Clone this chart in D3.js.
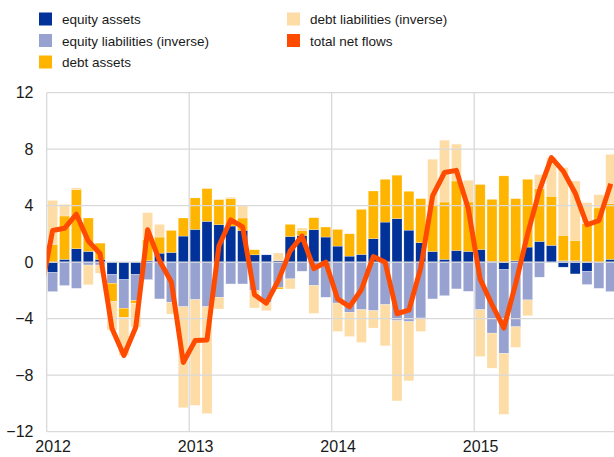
<!DOCTYPE html>
<html>
<head>
<meta charset="utf-8">
<script src="https://cdn.jsdelivr.net/npm/d3@7"></script>
<style>
  html, body { margin: 0; padding: 0; background: #fff; }
  svg { display: block; font-family: "Liberation Sans", Arial, sans-serif; }
</style>
</head>
<body>
<svg id="chart" width="614" height="457"></svg>
<script>
// ---- data (monthly, Jan 2012 - Dec 2015) ----
const years = ["2012", "2013", "2014", "2015"];
const yTicks = [12, 8, 4, 0, -4, -8, -12];
const seriesNames = ["equity assets", "equity liabilities (inverse)", "debt assets", "debt liabilities (inverse)", "total net flows"];

const equityAssets = [
  -0.71, 0.20, 0.95, 0.76, 0.20, -0.87, -1.23, -0.87, 0.10, 0.64, 0.69, 1.85,
  2.32, 2.89, 2.65, 2.56, 2.25, 0.52, 0.52, 0.10, 1.82, 1.89, 2.30, 1.78,
  1.14, 0.43, 0.55, 1.66, 2.84, 3.08, 2.27, 1.38, 0.76, 0.20, 0.83, 0.76,
  0.90, 0.05, -0.52, 0.10, 1.07, 1.47, 1.19, -0.35, -0.83, -0.64, 0.00, 0.20
];
const equityLiabilities = [
  -1.37, -1.65, -1.85, -0.20, -0.20, -0.62, -2.03, -1.85, -1.23, -2.60, -2.84, -3.15,
  -2.65, -3.15, -2.48, -1.54, -1.54, -2.01, -2.84, -1.77, -1.18, -0.64, -1.65, -2.48,
  -2.89, -3.55, -3.36, -3.43, -3.00, -4.14, -4.21, -3.95, -2.60, -2.37, -1.89, -2.06,
  -3.36, -5.02, -5.94, -4.57, -2.67, -1.06, 0.00, 0.10, 0.10, -0.94, -1.85, -2.08
];
const debtAssets = [
  1.26, 3.07, 4.19, 2.37, 1.15, -1.28, -0.64, -0.19, 1.50, 1.14, 1.56, 1.28,
  2.23, 2.32, 1.78, 1.94, 0.88, 0.36, 0.00, -0.13, 0.86, 0.36, 0.85, 0.71,
  1.18, 1.58, 3.19, 3.38, 3.03, 3.08, 2.75, 3.12, 3.27, 4.06, 4.92, 3.50,
  4.60, 4.40, 6.11, 4.40, 4.80, 3.74, 3.48, 1.80, 1.44, 2.72, 3.84, 3.94
];
const debtLiabilities = [
  3.12, 0.83, 0.12, -1.40, -0.58, -2.03, -2.70, -1.69, 1.91, 0.90, -0.83, -7.15,
  -7.48, -7.57, -0.83, 0.10, 0.85, -1.23, -0.59, 0.55, -0.71, 0.17, -1.97, 0.00,
  -2.01, -1.71, -2.32, -1.23, -2.92, -5.68, -4.19, -0.95, 3.26, 4.38, 2.61, 1.54,
  -3.32, -2.48, -4.31, -1.46, -1.12, 0.99, 2.74, 4.80, 4.21, 1.50, 0.94, 3.50
];
// first value is Dec 2011 (only its segment into the plot is visible)
const totalNetFlows = [
  -2.10,
  2.25, 2.40, 3.40, 1.50, 0.60, -4.70, -6.60, -4.60, 2.30, 0.10, -1.40, -7.10,
  -5.55, -5.50, 1.15, 3.00, 2.50, -2.30, -2.90, -1.30, 0.80, 1.85, -0.45, 0.00,
  -2.60, -3.15, -1.95, 0.40, 0.00, -3.65, -3.40, -0.40, 4.70, 6.35, 6.50, 3.80,
  -1.20, -3.00, -4.66, -1.50, 2.00, 5.10, 7.40, 6.45, 4.90, 2.65, 2.95, 5.55
];

const colors = ["#003299", "#98A2D0", "#FFB400", "#FDDCA6", "#FF4B00"];

(function () {
// ---- build table ----
const keys = ["ea", "el", "da", "dl"];
const months = d3.range(equityAssets.length);
const rows = months.map(i => ({
  i: i, ea: equityAssets[i], el: equityLiabilities[i], da: debtAssets[i], dl: debtLiabilities[i]
}));

const svg = d3.select("#chart");
const pLeft = 46.7, pRight = 616.7, pTop = 92.7, pBottom = 431.7;

const xIdx = d3.scaleLinear().domain([0, months.length]).range([pLeft, pRight]);
const xBand = d3.scaleBand().domain(months).range([pLeft, pRight]).paddingInner(0.16).paddingOuter(0.08);
const y = d3.scaleLinear().domain([-12, 12]).range([pBottom, pTop]);

const stack = d3.stack().keys(keys).offset(d3.stackOffsetDiverging);
const stacked = stack(rows);

// bars
const gBars = svg.append("g");
gBars.selectAll("g").data(stacked).join("g")
  .attr("fill", (d, k) => colors[k])
  .selectAll("rect").data(d => d).join("rect")
  .attr("x", d => xBand(d.data.i))
  .attr("width", xBand.bandwidth())
  .attr("y", d => y(Math.max(d[0], d[1])))
  .attr("height", d => Math.abs(y(d[0]) - y(d[1])))
  .attr("stroke", "#ffffff")
  .attr("stroke-width", 0.4)
  .attr("stroke-opacity", 0.6);

// grid
const grid = svg.append("g").attr("stroke", "#d9d9d9").attr("stroke-width", 1.3);
grid.selectAll("line.h").data(yTicks).join("line").attr("class", "h")
  .attr("x1", pLeft).attr("x2", 614).attr("y1", d => y(d)).attr("y2", d => y(d));
grid.selectAll("line.v").data(years).join("line").attr("class", "v")
  .attr("x1", (d, k) => xIdx(k * 12)).attr("x2", (d, k) => xIdx(k * 12))
  .attr("y1", pTop).attr("y2", pBottom);

// y axis labels
const yAxis = d3.axisLeft(y).tickValues(yTicks).tickSize(0).tickPadding(0).tickFormat(d3.format("d"));
const gy = svg.append("g").attr("transform", `translate(${33.5},0)`).call(yAxis);
gy.select(".domain").remove();
gy.selectAll("text").attr("font-size", 16).attr("fill", "#1a1a1a")
  .attr("font-family", "'Liberation Sans', Arial, sans-serif");

// x axis labels
const xAxis = d3.axisBottom(xIdx).tickValues(years.map((d, k) => k * 12 + 0.5))
  .tickSize(0).tickPadding(0).tickFormat((d, k) => years[k]);
const gx = svg.append("g").attr("transform", `translate(0,${441})`).call(xAxis);
gx.select(".domain").remove();
gx.selectAll("text").attr("font-size", 16).attr("fill", "#1a1a1a")
  .attr("font-family", "'Liberation Sans', Arial, sans-serif");

// line
svg.append("defs").append("clipPath").attr("id", "plotclip")
  .append("rect").attr("x", pLeft).attr("y", 0).attr("width", pRight - pLeft).attr("height", 457);
const line = d3.line().x((d, k) => xIdx(k - 0.5)).y(d => y(d));
svg.append("path").datum(totalNetFlows)
  .attr("clip-path", "url(#plotclip)")
  .attr("fill", "none").attr("stroke", colors[4]).attr("stroke-width", 5)
  .attr("stroke-linejoin", "round")
  .attr("d", line);

// legend
const legendPos = [[39, 12.5], [39, 34], [39, 55.5], [287, 12.5], [287, 34]];
const lg = svg.append("g");
const items = lg.selectAll("g").data(seriesNames).join("g")
  .attr("transform", (d, k) => `translate(${legendPos[k][0]},${legendPos[k][1]})`);
items.append("rect").attr("width", 13).attr("height", 13).attr("fill", (d, k) => colors[k]);
items.append("text").attr("x", 23).attr("y", 11.5)
  .attr("font-size", 13.5).attr("fill", "#1a1a1a").text(d => d);
})();
</script>
</body>
</html>
